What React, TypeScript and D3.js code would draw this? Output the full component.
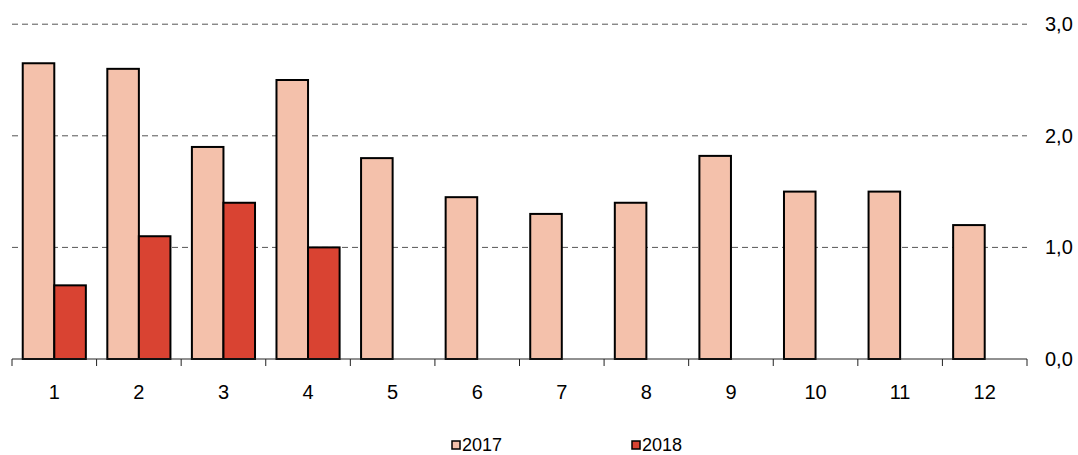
import React from "react";
import * as d3 from "d3";

const categories = ["1", "2", "3", "4", "5", "6", "7", "8", "9", "10", "11", "12"];
const series2017 = [2.65, 2.6, 1.9, 2.5, 1.8, 1.45, 1.3, 1.4, 1.82, 1.5, 1.5, 1.2];
const series2018: (number | null)[] = [0.66, 1.1, 1.4, 1.0, null, null, null, null, null, null, null, null];
const seriesNames = ["2017", "2018"];
const seriesColors = ["#F4C1AB", "#D94332"];
const yTicks = [0, 1, 2, 3];
const yTickLabels = ["0,0", "1,0", "2,0", "3,0"];

export default function App() {
  const W = 1078;
  const H = 455;
  const x0 = 12;
  const x1 = 1027;
  const x = d3.scaleBand<string>().domain(categories).range([x0, x1]).paddingInner(0).paddingOuter(0);
  const xs = d3.scaleBand<string>().domain(seriesNames).range([0, x.bandwidth()]).paddingInner(0).paddingOuter(0.34);
  const y = d3.scaleLinear().domain([0, 3]).range([359, 24.2]);
  const font = "Arial, 'Liberation Sans', sans-serif";
  const data = [series2017, series2018];
  const boundaries = categories.map((c) => x(c) as number).concat([x1]);

  return (
    <svg width={W} height={H} style={{ position: "absolute", left: 0, top: 0 }}>
      <rect x={0} y={0} width={W} height={H} fill="#fff" />
      {yTicks.filter((t) => t > 0).map((t) => (
        <line key={t} x1={x0} x2={x1} y1={y(t)} y2={y(t)} stroke="#555" strokeWidth={1} strokeDasharray="6,4" />
      ))}
      {data.map((s, si) =>
        s.map((v, i) =>
          v == null ? null : (
            <rect
              key={`${si}-${i}`}
              x={(x(categories[i]) as number) + (xs(seriesNames[si]) as number)}
              y={y(v)}
              width={xs.bandwidth()}
              height={y(0) - y(v)}
              fill={seriesColors[si]}
              stroke="#000"
              strokeWidth={2}
            />
          )
        )
      )}
      <line x1={x0} x2={x1} y1={y(0)} y2={y(0)} stroke="#222" strokeWidth={1} />
      {boundaries.map((b, i) => (
        <line key={i} x1={b} x2={b} y1={y(0)} y2={y(0) + 7} stroke="#222" strokeWidth={1} />
      ))}
      {categories.map((c) => (
        <text key={c} x={(x(c) as number) + x.bandwidth() / 2} y={399} textAnchor="middle" fontFamily={font} fontSize={20} fill="#000">
          {c}
        </text>
      ))}
      {yTicks.map((t, i) => (
        <text key={t} x={1045} y={y(t) + 7} fontFamily={font} fontSize={20} fill="#000">
          {yTickLabels[i]}
        </text>
      ))}
      {seriesNames.map((n, i) => {
        const lx = i === 0 ? 452 : 632;
        return (
          <g key={n}>
            <rect x={lx} y={441} width={8} height={8} fill={seriesColors[i]} stroke="#000" strokeWidth={1.5} />
            <text x={lx + 10} y={451} fontFamily={font} fontSize={18} fill="#000">
              {n}
            </text>
          </g>
        );
      })}
    </svg>
  );
}
